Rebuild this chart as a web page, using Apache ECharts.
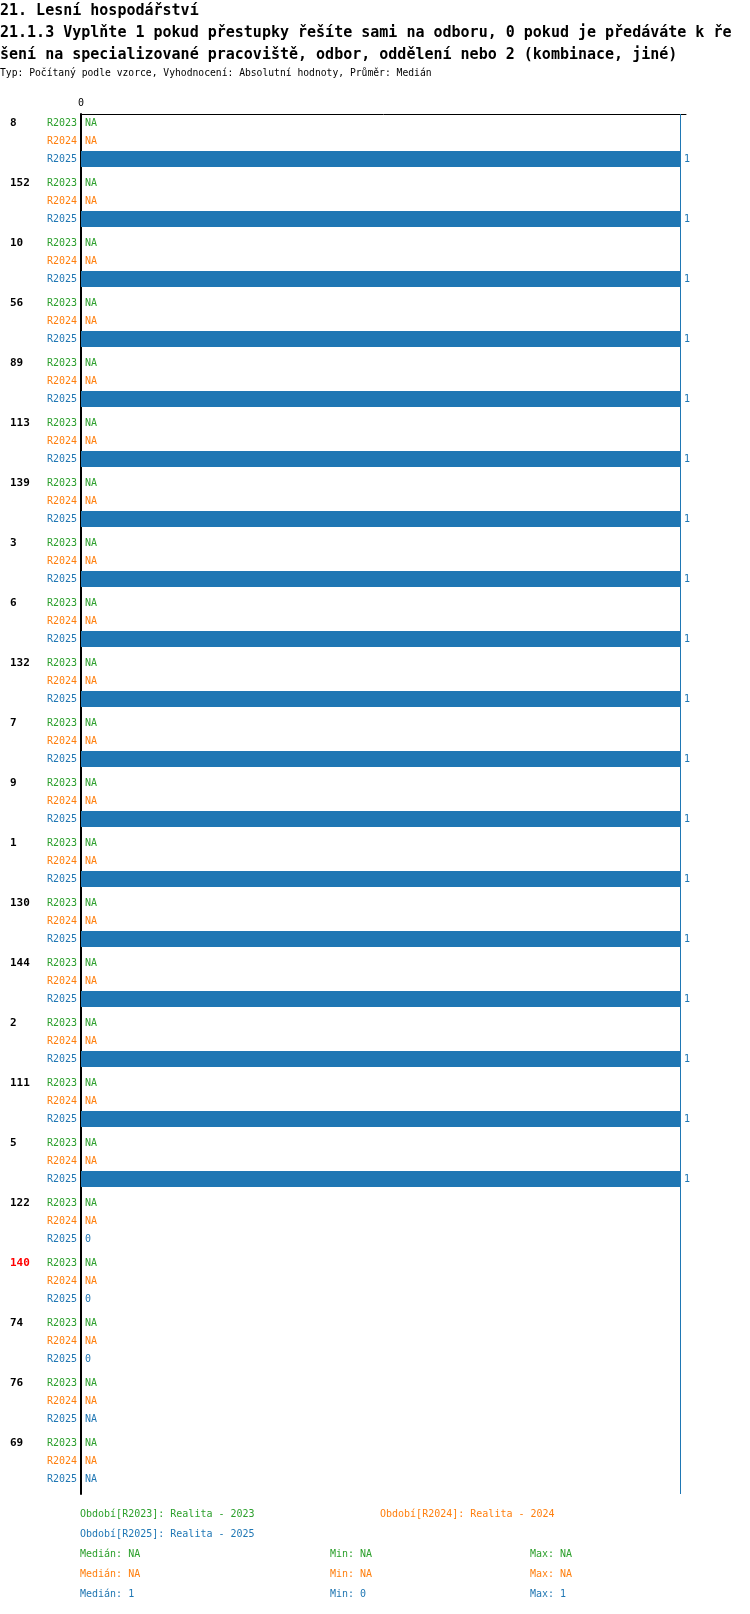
<!DOCTYPE html>
<html>
<head>
<meta charset="utf-8">
<title>21.1.3</title>
<script src="https://cdn.jsdelivr.net/npm/echarts@6/dist/echarts.min.js"></script>
<style>
	html, body { margin: 0; padding: 0; background: #fff; }
	#chart { width: 750px; height: 1614px; }
</style>
</head>
<body>
<div id="chart"></div>
<script>
	// data
	var groups = ['8','152','10','56','89','113','139','3','6','132','7','9','1','130','144','2','111','5','122','140','74','76','69'];
	var highlighted = ['140'];
	var periods = ['R2023','R2024','R2025'];
	var periodNames = ['Realita - 2023','Realita - 2024','Realita - 2025'];
	var colors = ['#2ca02c','#ff7f0e','#1f77b4'];
	var r2023 = [null,null,null,null,null,null,null,null,null,null,null,null,null,null,null,null,null,null,null,null,null,null,null];
	var r2024 = [null,null,null,null,null,null,null,null,null,null,null,null,null,null,null,null,null,null,null,null,null,null,null];
	var r2025 = [1,1,1,1,1,1,1,1,1,1,1,1,1,1,1,1,1,1,0,0,0,null,null];
	var xTicks = ['0'];
	var values = [r2023, r2024, r2025];

	// kazda skupina ma 10 slotu, radky v slotech 1, 4, 7
	var SLOTS = 10;
	var rowSlot = [1, 4, 7];
	var cats = [];
	for (var i = 0; i < groups.length * SLOTS; i++) cats.push('s' + i);

	function stats(arr) {
		var v = arr.filter(function(x){ return x !== null; }).sort(function(a,b){ return a-b; });
		if (!v.length) return {med:'NA', min:'NA', max:'NA'};
		var m = v.length % 2 ? v[(v.length-1)/2] : (v[v.length/2-1] + v[v.length/2]) / 2;
		return {med: m, min: v[0], max: v[v.length-1]};
	}

	var series = [];
	for (var k = 0; k < 3; k++) {
		var d = [];
		for (var j = 0; j < cats.length; j++) d.push('-');
		for (var g = 0; g < groups.length; g++) {
			var val = values[k][g];
			d[g * SLOTS + rowSlot[k]] = {value: val === null ? 0 : val, na: val === null};
		}
		var s = {
			name: periods[k],
			type: 'bar',
			barWidth: 16,
			barGap: '-100%',
			itemStyle: {color: colors[k]},
			label: {
				show: true,
				position: 'right',
				distance: 4,
				color: colors[k],
				fontFamily: 'DejaVu Sans Mono',
				fontSize: 10,
				formatter: function(p){ return p.data.na ? 'NA' : p.value; }
			},
			data: d
		};
		if (k == 2) {
			var st = stats(r2025);
			s.markLine = {
				symbol: 'none',
				silent: true,
				label: {show: false},
				lineStyle: {color: colors[2], width: 1, type: 'solid'},
				data: [{xAxis: st.med}]
			};
		}
		series.push(s);
	}

	var rich = {
		g: {width: 37, align: 'left', fontWeight: 'bold', fontSize: 11, color: '#000', fontFamily: 'DejaVu Sans Mono'},
		gr: {width: 37, align: 'left', fontWeight: 'bold', fontSize: 11, color: '#ff0000', fontFamily: 'DejaVu Sans Mono'}
	};
	for (var k = 0; k < 3; k++) rich['r' + k] = {color: colors[k], fontSize: 10, fontFamily: 'DejaVu Sans Mono'};

	// legenda a statistiky dole
	var mono = 'DejaVu Sans Mono';
	var graphic = [];
	var legPos = [[80, 1516], [380, 1516], [80, 1536]];
	for (var k = 0; k < 3; k++) {
		graphic.push({type: 'text', left: legPos[k][0], top: legPos[k][1] - 7,
			style: {text: 'Období[' + periods[k] + ']: ' + periodNames[k], fill: colors[k], font: '10px ' + mono}});
		var st = stats(values[k]);
		var y = 1556 + k * 20 - 7;
		graphic.push({type: 'text', left: 80, top: y, style: {text: 'Medián: ' + st.med, fill: colors[k], font: '10px ' + mono}});
		graphic.push({type: 'text', left: 330, top: y, style: {text: 'Min: ' + st.min, fill: colors[k], font: '10px ' + mono}});
		graphic.push({type: 'text', left: 530, top: y, style: {text: 'Max: ' + st.max, fill: colors[k], font: '10px ' + mono}});
	}

	var chart = echarts.init(document.getElementById('chart'));
	chart.setOption({
		animation: false,
		backgroundColor: '#fff',
		title: [{
			text: '21. Lesní hospodářství\n21.1.3 Vyplňte 1 pokud přestupky řešíte sami na odboru, 0 pokud je předáváte k ře\nšení na specializované pracoviště, odbor, oddělení nebo 2 (kombinace, jiné)',
			left: 0,
			top: 0,
			padding: 0,
			textStyle: {fontFamily: mono, fontSize: 15, fontWeight: 'bold', lineHeight: 22, color: '#000'}
		}, {
			text: 'Typ: Počítaný podle vzorce, Vyhodnocení: Absolutní hodnoty, Průměr: Medián',
			left: 0,
			top: 67,
			padding: 0,
			textStyle: {fontFamily: mono, fontSize: 9.7, fontWeight: 'normal', lineHeight: 12, color: '#000'}
		}],
		grid: {left: 81, right: 64, top: 114, height: 1380, containLabel: false},
		xAxis: {
			type: 'value',
			position: 'top',
			min: 0,
			max: 1.01,
			interval: 1,
			splitLine: {show: false},
			axisTick: {show: false},
			axisLine: {show: true, lineStyle: {color: '#000', width: 1}},
			axisLabel: {
				margin: 6,
				fontFamily: mono,
				fontSize: 10,
				color: '#000',
				formatter: function(v){ return v === 0 ? xTicks[0] : ''; }
			}
		},
		yAxis: {
			type: 'category',
			inverse: true,
			data: cats,
			axisTick: {show: false},
			axisLine: {show: true, lineStyle: {color: '#000', width: 2}},
			axisLabel: {
				interval: 0,
				margin: 4,
				rich: rich,
				formatter: function(v, idx) {
					var g = Math.floor(idx / SLOTS), r = idx % SLOTS;
					var k = rowSlot.indexOf(r);
					if (k < 0) return '';
					var txt = '{r' + k + '|' + periods[k] + '}';
					if (k == 0) {
						var st = highlighted.indexOf(groups[g]) >= 0 ? 'gr' : 'g';
						txt = '{' + st + '|' + groups[g] + '}' + txt;
					}
					return txt;
				}
			}
		},
		graphic: graphic,
		series: series
	});
</script>
</body>
</html>
